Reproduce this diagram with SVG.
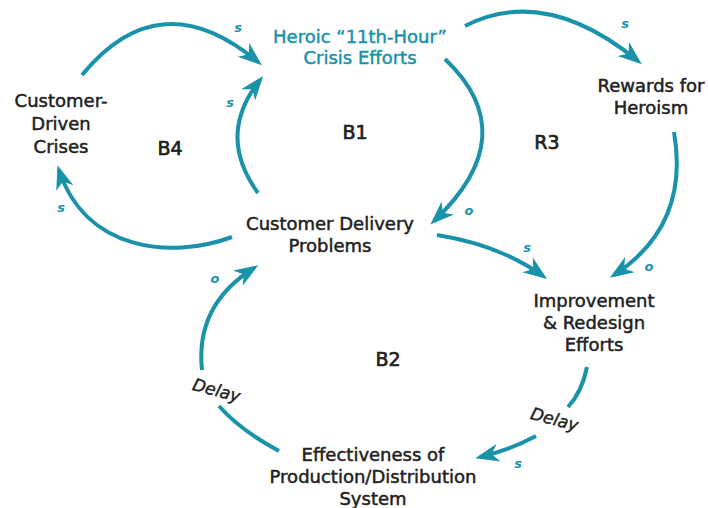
<svg xmlns="http://www.w3.org/2000/svg" width="708" height="508" viewBox="0 0 708 508">
<style>
.n{font-family:"DejaVu Sans",sans-serif;font-size:18px;fill:#222;stroke:#222;stroke-width:0.5;text-anchor:middle}
.h{fill:#1a93aa;stroke:#1a93aa}
.L{font-family:"DejaVu Sans",sans-serif;font-size:19px;fill:#222;stroke:#222;stroke-width:0.7;text-anchor:middle}
.p{font-family:"DejaVu Sans",sans-serif;font-size:13px;font-style:italic;font-weight:bold;fill:#1a93aa;text-anchor:middle}
.d{font-family:"DejaVu Sans",sans-serif;font-size:17px;font-style:italic;fill:#222;stroke:#222;stroke-width:0.4;text-anchor:middle}
.c{fill:none;stroke:#1a93aa;stroke-width:4}
.a{marker-end:url(#ah)}
</style>
<defs>
<marker id="ah" markerUnits="userSpaceOnUse" viewBox="-22 -10 28 20" refX="0" refY="0" markerWidth="28" markerHeight="20" orient="auto">
<path d="M5,0 L-19,-9 L-12,0 L-19,9 Z" fill="#1a93aa"/>
</marker>
</defs>
<g id="connectors">
<path class="c a" d="M82,75 Q160,-20 258,62"/>
<path class="c a" d="M258,193 Q216,135 260,80"/>
<path class="c a" d="M445,59 Q525,135 434,221"/>
<path class="c a" d="M465,26 Q545,-15 638,61"/>
<path class="c a" d="M674,132 C684,190 668,240 614,275"/>
<path class="c a" d="M437,235 Q500,245 543,276"/>
<path class="c a" d="M232,237 C170,260 85,250 59,170"/>
<path class="c" d="M587,367 Q582,392 568,407"/>
<path class="c a" d="M536,436 Q510,450 480,457"/>
<path class="c" d="M279,451 Q240,430 219,406"/>
<path class="c a" d="M202,370 Q195,305 254,268"/>
<text class="p" x="238" y="32">s</text>
<text class="p" x="230" y="107">s</text>
<text class="p" x="469" y="215">o</text>
<text class="p" x="625" y="28">s</text>
<text class="p" x="649" y="271">o</text>
<text class="p" x="527" y="252">s</text>
<text class="p" x="61" y="212">s</text>
<text class="p" x="518" y="468">s</text>
<text class="p" x="215" y="283">o</text>
<text class="d" transform="translate(215,396) rotate(15)">Delay</text>
<text class="d" transform="translate(553,425) rotate(15)">Delay</text>
</g>
<g id="heroic"><text class="n h" x="360" y="43">Heroic “11th-Hour”</text><text class="n h" x="360" y="64">Crisis Efforts</text></g>
<g id="crises"><text class="n" x="61" y="107">Customer-</text><text class="n" x="61" y="130">Driven</text><text class="n" x="61" y="153">Crises</text></g>
<g id="rewards"><text class="n" x="651" y="92">Rewards for</text><text class="n" x="651" y="114">Heroism</text></g>
<g id="delivery"><text class="n" x="330" y="230">Customer Delivery</text><text class="n" x="330" y="252">Problems</text></g>
<g id="improvement"><text class="n" x="594" y="307">Improvement</text><text class="n" x="594" y="329">&amp; Redesign</text><text class="n" x="594" y="351">Efforts</text></g>
<g id="effectiveness"><text class="n" x="373" y="461">Effectiveness of</text><text class="n" x="373" y="483">Production/Distribution</text><text class="n" x="373" y="505">System</text></g>
<g id="loops"><text class="L" x="355" y="139">B1</text><text class="L" x="170" y="155">B4</text><text class="L" x="547" y="149">R3</text><text class="L" x="388" y="366">B2</text></g>
</svg>
